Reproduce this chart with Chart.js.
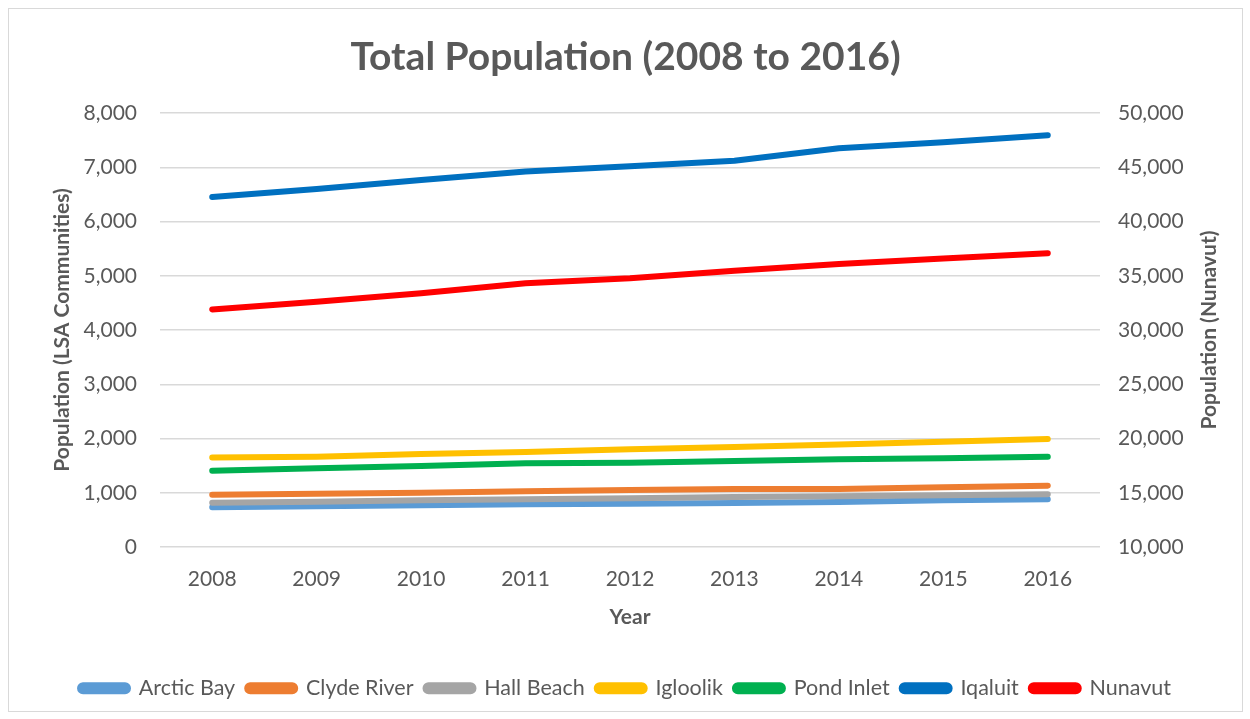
<!DOCTYPE html>
<html>
<head>
<meta charset="utf-8">
<title>Total Population (2008 to 2016)</title>
<script src="https://cdn.jsdelivr.net/npm/chart.js@4.4.1/dist/chart.umd.min.js"></script>
<style>
  html, body { margin: 0; padding: 0; background: #ffffff; }
  #frame {
    position: absolute;
    left: 8px;
    top: 8px;
    width: 1233px;
    height: 702px;
    border: 1px solid #d9d9d9;
  }
  #chart { display: block; }
</style>
</head>
<body>
<div id="frame"><canvas id="chart" width="1233" height="702"></canvas></div>
<script>
// Years on the x axis
const years = ['2008', '2009', '2010', '2011', '2012', '2013', '2014', '2015', '2016'];

// LSA community populations (left axis)
const arcticBay  = [731, 750, 768, 787, 799, 811, 829, 860, 879];
const clydeRiver = [965, 983, 1002, 1026, 1051, 1069, 1069, 1100, 1131];
const hallBeach  = [817, 835, 860, 878, 897, 922, 934, 952, 971];
const igloolik   = [1650, 1665, 1715, 1750, 1800, 1845, 1890, 1940, 1990];
const pondInlet  = [1407, 1450, 1493, 1542, 1554, 1585, 1616, 1634, 1665];
const iqaluit    = [6450, 6600, 6765, 6920, 7020, 7120, 7350, 7460, 7590];

// Territory total (right axis)
const nunavut    = [31900, 32600, 33380, 34300, 34770, 35470, 36080, 36580, 37080];

const textColor = '#595959';
const gridColor = '#d9d9d9';
const fontFamily = 'Lato, "Open Sans", sans-serif';

function series(label, data, color, axis) {
  return {
    label: label,
    data: data,
    borderColor: color,
    backgroundColor: color,
    borderWidth: 6,
    borderCapStyle: 'round',
    borderJoinStyle: 'round',
    pointRadius: 0,
    pointHoverRadius: 0,
    tension: 0,
    yAxisID: axis
  };
}

const datasets = [
  series('Arctic Bay', arcticBay, '#5b9bd5', 'y'),
  series('Clyde River', clydeRiver, '#ed7d31', 'y'),
  series('Hall Beach', hallBeach, '#a5a5a5', 'y'),
  series('Igloolik', igloolik, '#ffc000', 'y'),
  series('Pond Inlet', pondInlet, '#00b050', 'y'),
  series('Iqaluit', iqaluit, '#0070c0', 'y'),
  series('Nunavut', nunavut, '#ff0000', 'y2')
];
// later series are painted over earlier ones
datasets.forEach((d, i) => { d.order = datasets.length - i; });

const fmt = v => Number(v).toLocaleString('en-US');

// right axis title reads bottom-to-top, like the left one
const rightTitle = {
  id: 'rightTitle',
  afterDraw(chart) {
    const ctx = chart.ctx;
    const area = chart.chartArea;
    ctx.save();
    ctx.translate(1200, (area.top + area.bottom) / 2);
    ctx.rotate(-Math.PI / 2);
    ctx.font = 'bold 21px ' + fontFamily;
    ctx.fillStyle = textColor;
    ctx.textAlign = 'center';
    ctx.textBaseline = 'middle';
    ctx.fillText('Population (Nunavut)', 0, 0);
    ctx.restore();
  }
};

new Chart(document.getElementById('chart'), {
  type: 'line',
  data: { labels: years, datasets: datasets },
  plugins: [rightTitle],
  options: {
    responsive: false,
    animation: false,
    layout: { padding: { bottom: 2 } },
    plugins: {
      title: {
        display: true,
        text: 'Total Population (2008 to 2016)',
        color: textColor,
        font: { family: fontFamily, size: 39, weight: 'bold' },
        padding: { top: 24.6, bottom: 32.6 }
      },
      legend: {
        position: 'bottom',
        labels: {
          color: textColor,
          font: { family: fontFamily, size: 21.5 },
          boxWidth: 48,
          boxHeight: 6,
          useBorderRadius: true,
          borderRadius: 3,
          padding: 12,
          sort: (a, b) => a.datasetIndex - b.datasetIndex
        }
      },
      tooltip: { enabled: false }
    },
    scales: {
      x: {
        offset: true,
        grid: { display: false },
        border: { display: false },
        ticks: { color: textColor, font: { family: fontFamily, size: 21 }, padding: 12 },
        title: {
          display: true,
          text: 'Year',
          color: textColor,
          font: { family: fontFamily, size: 21, weight: 'bold' },
          padding: { top: 0, bottom: 36 }
        },
        afterFit(scale) { scale.height = 118.5; }
      },
      y: {
        position: 'left',
        min: 0,
        max: 8000,
        ticks: { stepSize: 1000, color: textColor, font: { family: fontFamily, size: 21 }, padding: 23, callback: fmt },
        grid: { color: gridColor, lineWidth: 1.5, drawTicks: false },
        border: { display: false },
        title: {
          display: true,
          text: 'Population (LSA Communities)',
          color: textColor,
          font: { family: fontFamily, size: 21, weight: 'bold' },
          padding: { top: 41, bottom: 0 }
        },
        afterFit(scale) { scale.width = 151; }
      },
      y2: {
        position: 'right',
        min: 10000,
        max: 50000,
        ticks: { stepSize: 5000, color: textColor, font: { family: fontFamily, size: 21 }, padding: 18, callback: fmt },
        grid: { display: false, drawTicks: false },
        border: { display: false },
        afterFit(scale) { scale.width = 142; }
      }
    }
  }
});
</script>
</body>
</html>
